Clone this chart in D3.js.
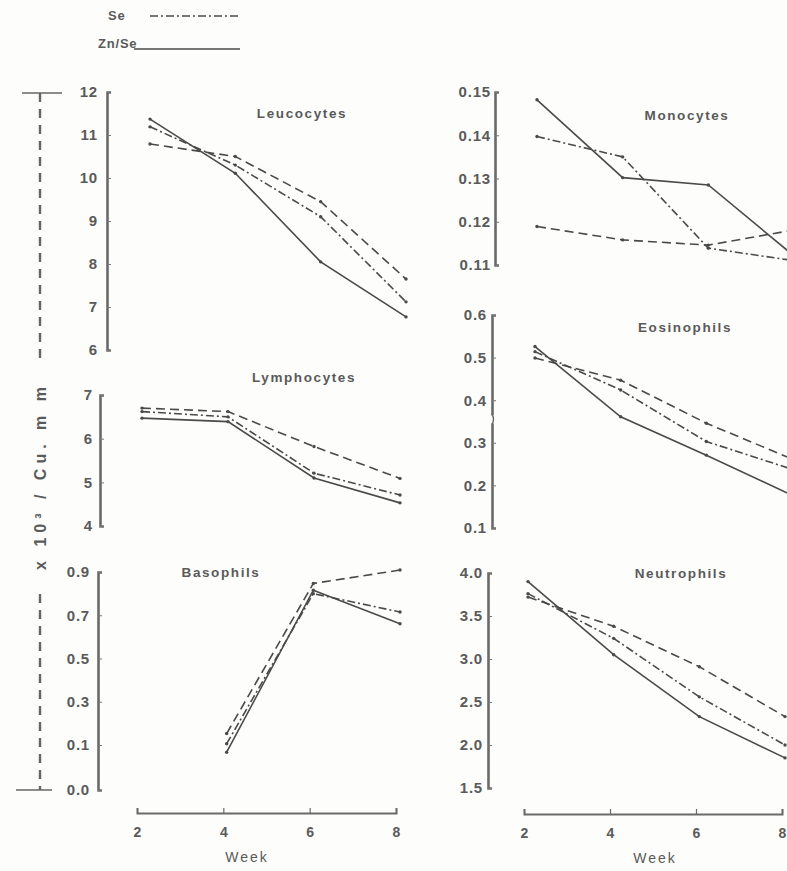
<!DOCTYPE html>
<html>
<head>
<meta charset="utf-8">
<script src="https://cdn.jsdelivr.net/npm/d3@7"></script>
<style>
  body { margin: 0; background: #fdfdfb; }
  svg { display: block; font-family: "Liberation Sans", Arial, sans-serif; }
</style>
</head>
<body>
<svg id="chart"></svg>
<script>
// x: Woche
var weeks = [2, 4, 6, 8];
var basoWeeks = [4, 6, 8];

// Leucocytes (x 10^3 / cu. mm)
var leucoTicks = [12, 11, 10, 9, 8, 7, 6];
var leucoZnSe = [11.37, 10.11, 8.05, 6.77];
var leucoSe = [11.19, 10.30, 9.10, 7.12];
var leucoDash = [10.79, 10.50, 9.45, 7.65];

// Monocytes
var monoTicks = [0.15, 0.14, 0.13, 0.12, 0.11];
var monoZnSe = [0.1482, 0.1302, 0.1285, 0.1121];
var monoSe = [0.1397, 0.1350, 0.1139, 0.1110];
var monoDash = [0.1189, 0.1158, 0.1146, 0.1181];

// Lymphocytes
var lymphTicks = [7, 6, 5, 4];
var lymphZnSe = [6.47, 6.39, 5.10, 4.53];
var lymphSe = [6.62, 6.50, 5.21, 4.71];
var lymphDash = [6.70, 6.62, 5.82, 5.09];

// Eosinophils
var eosTicks = [0.6, 0.5, 0.4, 0.3, 0.2, 0.1];
var eosZnSe = [0.526, 0.361, 0.271, 0.177];
var eosSe = [0.514, 0.424, 0.303, 0.238];
var eosDash = [0.499, 0.447, 0.346, 0.262];

// Basophils (erst ab Woche 4)
var basoTicks = [0.9, 0.7, 0.5, 0.3, 0.1, 0.0];
var basoZnSe = [0.084, 0.816, 0.661];
var basoSe = [0.106, 0.800, 0.715];
var basoDash = [0.153, 0.847, 0.909];

// Neutrophils
var neutroTicks = [4.0, 3.5, 3.0, 2.5, 2.0, 1.5];
var neutroZnSe = [3.90, 3.05, 2.33, 1.85];
var neutroSe = [3.76, 3.24, 2.56, 2.00];
var neutroDash = [3.72, 3.38, 2.91, 2.33];

var ink = '#4a4a4a';
var textInk = '#5a5a5a';
var dashes = { znse: null, se: '8,3,2,3', dash: '9,5' };

var svg = d3.select('#chart').attr('width', 787).attr('height', 871);

// Panels
var panels = [
  { title: 'Leucocytes', titleX: 302, titleY: 113, x: weeks, znse: leucoZnSe, se: leucoSe, dash: leucoDash,
    ticks: leucoTicks, fmt: d3.format('d'), domain: [6, 12], yRange: [350, 92], xRange: [150, 406], axisX: 107, pad: 9 },
  { title: 'Monocytes', titleX: 687, titleY: 115, x: weeks, znse: monoZnSe, se: monoSe, dash: monoDash,
    ticks: monoTicks, fmt: d3.format('.2f'), domain: [0.11, 0.15], yRange: [265, 92], xRange: [537, 794], axisX: 495, pad: 4 },
  { title: 'Lymphocytes', titleX: 304, titleY: 377, x: weeks, znse: lymphZnSe, se: lymphSe, dash: lymphDash,
    ticks: lymphTicks, fmt: d3.format('d'), domain: [4, 7], yRange: [526, 395], xRange: [142, 400], axisX: 100, pad: 7 },
  { title: 'Eosinophils', titleX: 685, titleY: 327, x: weeks, znse: eosZnSe, se: eosSe, dash: eosDash,
    ticks: eosTicks, fmt: d3.format('.1f'), domain: [0.1, 0.6], yRange: [528, 315], xRange: [535, 792], axisX: 492, pad: 5, brk: 0.355 },
  { title: 'Basophils', titleX: 221, titleY: 572, x: basoWeeks, znse: basoZnSe, se: basoSe, dash: basoDash,
    ticks: basoTicks, fmt: d3.format('.1f'), domain: [0, 0.1, 0.9], yRange: [790, 745, 572], xRange: [140, 400], axisX: 98, pad: 8 },
  { title: 'Neutrophils', titleX: 681, titleY: 573, x: weeks, znse: neutroZnSe, se: neutroSe, dash: neutroDash,
    ticks: neutroTicks, fmt: d3.format('.1f'), domain: [1.5, 4.0], yRange: [788, 573], xRange: [528, 785], axisX: 488, pad: 5 }
];

panels.forEach(function(p) {
  var x = d3.scaleLinear().domain([2, 8]).range(p.xRange);
  var y = d3.scaleLinear().domain(p.domain).range(p.yRange);

  // y-Achse
  var ax = svg.append('g')
    .attr('transform', 'translate(' + p.axisX + ',0)')
    .call(d3.axisLeft(y).tickValues(p.ticks).tickFormat(p.fmt)
      .tickSize(-4).tickSizeOuter(-4).tickPadding(p.pad));
  ax.select('.domain').attr('stroke', '#6a6a6a').attr('stroke-width', 2.6);
  ax.selectAll('.tick line').attr('stroke', '#777').attr('stroke-width', 1);
  ax.selectAll('.tick text')
    .attr('fill', textInk)
    .style('font-size', '15px')
    .style('font-weight', 'bold')
    .style('letter-spacing', '0.8px');

  // Achsenbruch (Eosinophils)
  if (p.brk) {
    var yb = y(p.brk);
    ax.append('rect').attr('x', -3).attr('y', yb - 4).attr('width', 6).attr('height', 8)
      .attr('fill', '#fdfdfb');
    ax.append('path')
      .attr('d', 'M0,' + (yb - 5) + ' Q3,' + yb + ' 0,' + (yb + 5))
      .attr('fill', 'none').attr('stroke', '#6a6a6a').attr('stroke-width', 1.4);
  }

  // Titel
  svg.append('text')
    .attr('x', p.titleX).attr('y', p.titleY)
    .attr('text-anchor', 'middle').attr('dy', '0.35em')
    .attr('fill', textInk)
    .style('font-size', '13.5px').style('font-weight', 'bold')
    .style('letter-spacing', '1.6px')
    .text(p.title);

  // Linien
  ['dash', 'se', 'znse'].forEach(function(key) {
    var pts = p.x.map(function(w, i) { return [w, p[key][i]]; });
    var line = d3.line().x(function(d) { return x(d[0]); }).y(function(d) { return y(d[1]); });
    svg.append('path')
      .datum(pts)
      .attr('d', line)
      .attr('fill', 'none')
      .attr('stroke', ink)
      .attr('stroke-width', 1.6)
      .attr('stroke-dasharray', dashes[key]);
    svg.selectAll(null)
      .data(pts)
      .enter().append('circle')
      .attr('cx', function(d) { return x(d[0]); })
      .attr('cy', function(d) { return y(d[1]); })
      .attr('r', 1.7)
      .attr('fill', ink);
  });
});

// x-Achsen unten
var bottoms = [
  { range: [137, 396], y: 813, labelX: 247 },
  { range: [524, 782], y: 814, labelX: 655 }
];
bottoms.forEach(function(b) {
  var x = d3.scaleLinear().domain([2, 8]).range(b.range);
  var g = svg.append('g')
    .attr('transform', 'translate(0,' + b.y + ')')
    .call(d3.axisBottom(x).tickValues(weeks).tickFormat(d3.format('d'))
      .tickSize(-5).tickSizeOuter(-5).tickPadding(14));
  g.select('.domain').attr('stroke', '#6a6a6a').attr('stroke-width', 2);
  g.selectAll('.tick line').attr('stroke', '#6a6a6a').attr('stroke-width', 1.2);
  g.selectAll('.tick text')
    .attr('fill', textInk)
    .style('font-size', '14px').style('font-weight', 'bold');
  svg.append('text')
    .attr('x', b.labelX).attr('y', b.y + 44)
    .attr('text-anchor', 'middle').attr('dy', '0.35em')
    .attr('fill', textInk)
    .style('font-size', '14px')
    .style('letter-spacing', '2px')
    .text('Week');
});

// Einheit links, mit gestricheltem Klammerstrich
var unitX = 40;
svg.append('line').attr('x1', 22).attr('x2', 62).attr('y1', 93).attr('y2', 93)
  .attr('stroke', '#666').attr('stroke-width', 1.6);
svg.append('line').attr('x1', 16).attr('x2', 52).attr('y1', 790).attr('y2', 790)
  .attr('stroke', '#666').attr('stroke-width', 1.6);
[[93, 358], [594, 790]].forEach(function(seg) {
  svg.append('line')
    .attr('x1', unitX).attr('x2', unitX).attr('y1', seg[0]).attr('y2', seg[1])
    .attr('stroke', '#666').attr('stroke-width', 2.4)
    .attr('stroke-dasharray', '9,7');
});
svg.append('text')
  .attr('transform', 'translate(' + unitX + ',476) rotate(-90)')
  .attr('text-anchor', 'middle').attr('dy', '0.35em')
  .attr('fill', textInk)
  .style('font-size', '16px').style('font-weight', 'bold')
  .style('letter-spacing', '5px')
  .text('x 10³ / Cu. m m');

// Legende
var legend = [
  { name: 'Se', key: 'se', tx: 108, ty: 15, x1: 150, x2: 238, ly: 16 },
  { name: 'Zn/Se', key: 'znse', tx: 98, ty: 43, x1: 134, x2: 240, ly: 49 }
];
legend.forEach(function(l) {
  svg.append('text')
    .attr('x', l.tx).attr('y', l.ty).attr('dy', '0.35em')
    .attr('fill', textInk)
    .style('font-size', '13px').style('font-weight', 'bold')
    .style('letter-spacing', '0.8px')
    .text(l.name);
  svg.append('line')
    .attr('x1', l.x1).attr('x2', l.x2).attr('y1', l.ly).attr('y2', l.ly)
    .attr('stroke', ink).attr('stroke-width', 1.4)
    .attr('stroke-dasharray', dashes[l.key]);
});
</script>
</body>
</html>
